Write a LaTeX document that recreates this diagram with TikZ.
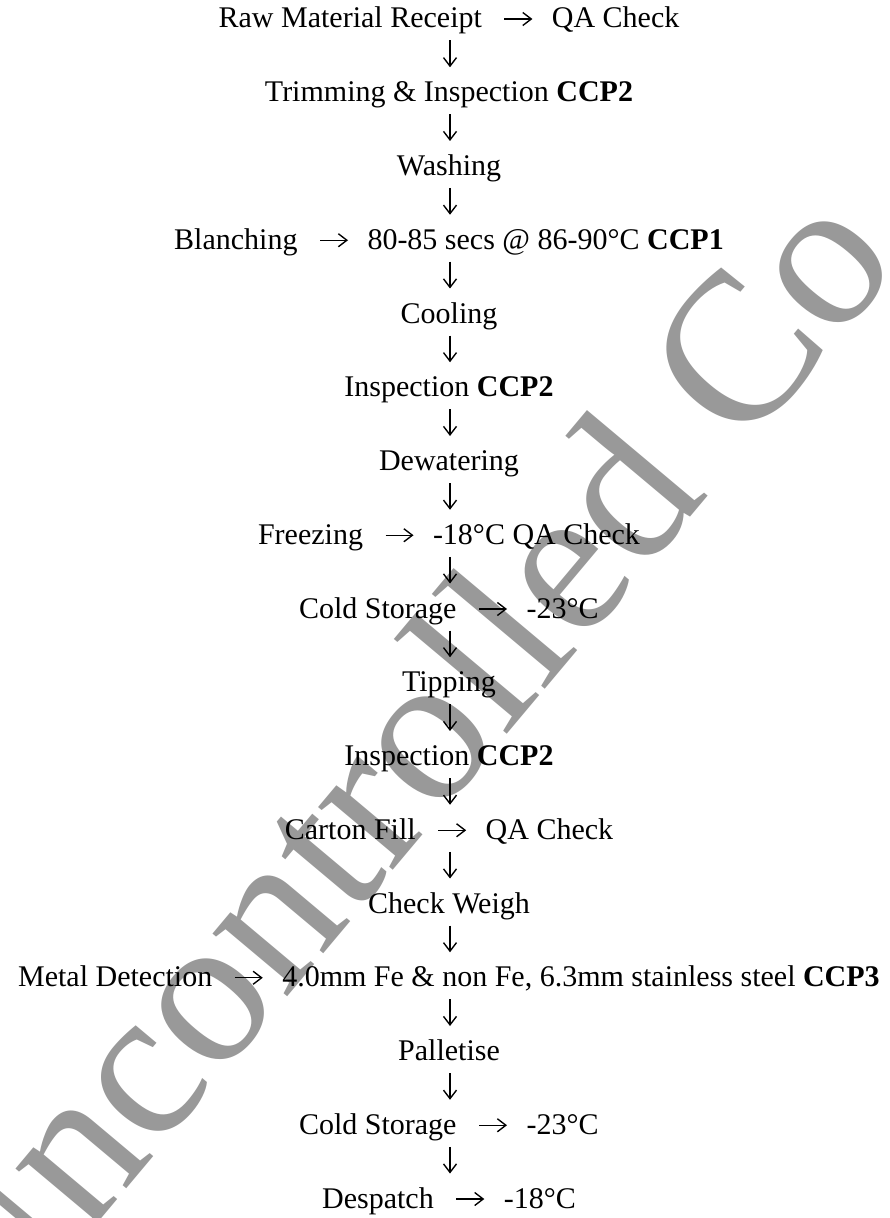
\documentclass[tikz,border=0pt]{standalone}
\usepackage{fontspec}
\setmainfont{Liberation Serif}
\usetikzlibrary{arrows.meta,positioning}
\definecolor{stampgray}{HTML}{999999}

\begin{document}
\begin{tikzpicture}[
    x=0.4pt, y=-0.4pt,
    stage/.style={inner sep=0pt, text height=9.6pt, text depth=2.4pt},
    flow down/.style={line width=0.55pt, -{Straight Barb[length=3.4pt,width=5.2pt]},
    shorten <=2.4pt, shorten >=4pt},
    flow right/.style={line width=0.55pt, -{Straight Barb[length=3.4pt,width=5.2pt]},
    shorten <=8.8pt, shorten >=7.6pt},
    stamp/.style={text=stampgray, inner sep=0pt, font=\fontsize{85}{85}\selectfont},
    every node/.style={font=\fontsize{12}{14}\selectfont}
    ]

\useasboundingbox (0,0) rectangle (890,1218);

% watermark behind the flow
\node[stamp, rotate=50, anchor=base west] (wm) at (-11.5,1353) {Uncontrolled Co};

\coordinate (spine) at (450,0);

\node[stage, anchor=base east] (raw) at (482.4,28) {Raw Material Receipt};
\node[stage, right=27.6pt of raw] (rawqa) {QA Check};

\node[stage, anchor=base] (trim) at (449,101.75) {Trimming \& Inspection \textbf{CCP2}};

\node[stage, anchor=base] (wash) at (449,175.5) {Washing};

\node[stage, anchor=base east] (blanch) at (298,249.25) {Blanching};
\node[stage, right=27.6pt of blanch] (blanchtemp) {80-85 secs @ 86-90°C \textbf{CCP1}};

\node[stage, anchor=base] (cool) at (449,323) {Cooling};

\node[stage, anchor=base] (insp1) at (449,396.75) {Inspection \textbf{CCP2}};

\node[stage, anchor=base] (dewater) at (449,470.5) {Dewatering};

\node[stage, anchor=base east] (freeze) at (363.5,544.25) {Freezing};
\node[stage, right=27.6pt of freeze] (freezeqa) {-18°C QA Check};

\node[stage, anchor=base east] (store1) at (457,618) {Cold Storage};
\node[stage, right=27.6pt of store1] (store1temp) {-23°C};

\node[stage, anchor=base] (tip) at (449,691.75) {Tipping};

\node[stage, anchor=base] (insp2) at (449,765.5) {Inspection \textbf{CCP2}};

\node[stage, anchor=base east] (carton) at (416.2,839.25) {Carton Fill};
\node[stage, right=27.6pt of carton] (cartonqa) {QA Check};

\node[stage, anchor=base] (weigh) at (449,913) {Check Weigh};

\node[stage, anchor=base east] (metal) at (212.75,986.75) {Metal Detection};
\node[stage, right=27.6pt of metal] (metallimit) {4.0mm Fe \& non Fe, 6.3mm stainless steel \textbf{CCP3}};

\node[stage, anchor=base] (pallet) at (449,1060.5) {Palletise};

\node[stage, anchor=base east] (store2) at (457,1134.25) {Cold Storage};
\node[stage, right=27.6pt of store2] (store2temp) {-23°C};

\node[stage, anchor=base east] (despatch) at (434.3,1208) {Despatch};
\node[stage, right=27.6pt of despatch] (despatchtemp) {-18°C};

% side arrows
\draw[flow right] (raw.east) -- (rawqa.west);
\draw[flow right] (blanch.east) -- (blanchtemp.west);
\draw[flow right] (freeze.east) -- (freezeqa.west);
\draw[flow right] (store1.east) -- (store1temp.west);
\draw[flow right] (carton.east) -- (cartonqa.west);
\draw[flow right] (metal.east) -- (metallimit.west);
\draw[flow right] (store2.east) -- (store2temp.west);
\draw[flow right] (despatch.east) -- (despatchtemp.west);

% main flow
\draw[flow down] (raw.south -| spine) -- (trim.north -| spine);
\draw[flow down] (trim.south -| spine) -- (wash.north -| spine);
\draw[flow down] (wash.south -| spine) -- (blanch.north -| spine);
\draw[flow down] (blanch.south -| spine) -- (cool.north -| spine);
\draw[flow down] (cool.south -| spine) -- (insp1.north -| spine);
\draw[flow down] (insp1.south -| spine) -- (dewater.north -| spine);
\draw[flow down] (dewater.south -| spine) -- (freeze.north -| spine);
\draw[flow down] (freeze.south -| spine) -- (store1.north -| spine);
\draw[flow down] (store1.south -| spine) -- (tip.north -| spine);
\draw[flow down] (tip.south -| spine) -- (insp2.north -| spine);
\draw[flow down] (insp2.south -| spine) -- (carton.north -| spine);
\draw[flow down] (carton.south -| spine) -- (weigh.north -| spine);
\draw[flow down] (weigh.south -| spine) -- (metal.north -| spine);
\draw[flow down] (metal.south -| spine) -- (pallet.north -| spine);
\draw[flow down] (pallet.south -| spine) -- (store2.north -| spine);
\draw[flow down] (store2.south -| spine) -- (despatch.north -| spine);

\end{tikzpicture}
\end{document}
